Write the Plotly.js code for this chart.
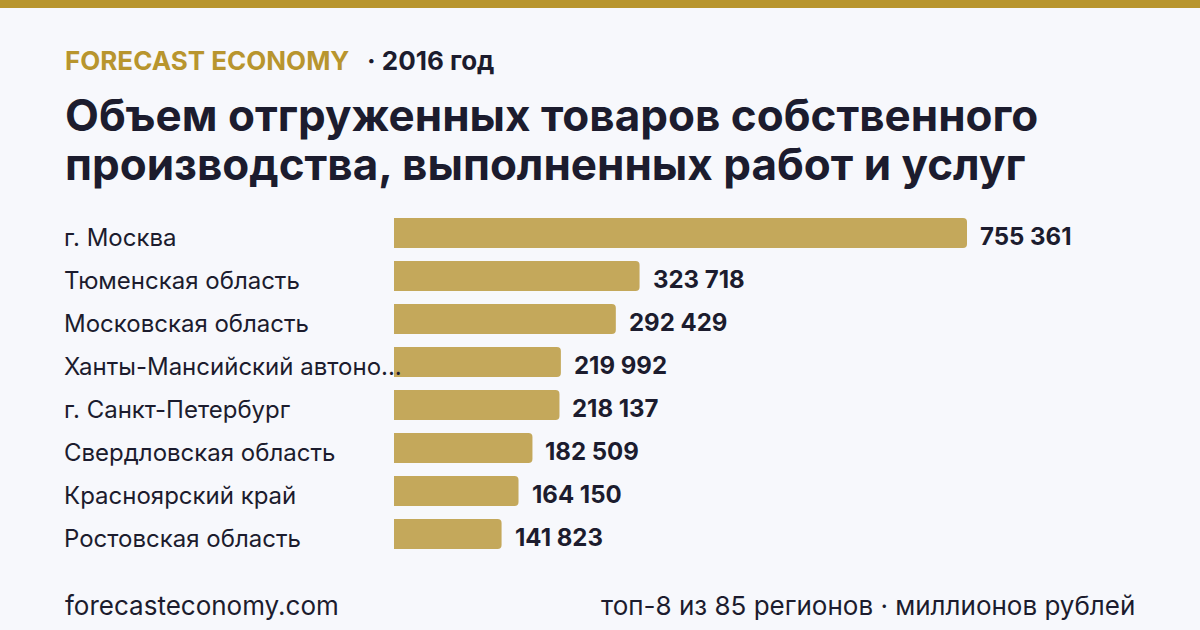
<!DOCTYPE html>
<html>
<head>
<meta charset="utf-8">
<script src="https://cdn.plot.ly/plotly-3.0.1.min.js"></script>
<style>
html,body{margin:0;padding:0;background:#f7f8fc;}
#chart{width:1200px;height:630px;}
</style>
</head>
<body>
<div id="chart"></div>
<script>
const regions = [
  "г. Москва",
  "Тюменская область",
  "Московская область",
  "Ханты-Мансийский автоно...",
  "г. Санкт-Петербург",
  "Свердловская область",
  "Красноярский край",
  "Ростовская область"
];
const values = [755361, 323718, 292429, 219992, 218137, 182509, 164150, 141823];
const brand = "FORECAST ECONOMY";
const period = "· 2016 год";
const titleLine1 = "Объем отгруженных товаров собственного";
const titleLine2 = "производства, выполненных работ и услуг";
const footerLeft = "forecasteconomy.com";
const footerRight = "топ-8 из 85 регионов · миллионов рублей";

const W = 1200, H = 630;
const GOLD = "#b8952e", BAR = "#c4a85b", DARK = "#1c1c2e", BG = "#f7f8fc";
const FONT = "Inter, 'Noto Sans', sans-serif";

function fmt(v){ return String(v).replace(/\B(?=(\d{3})+(?!\d))/g, " "); }

const maxV = Math.max(...values);
const x0 = 394, xMaxPx = 967, xEnd = 1140;
const xRange = [0, maxV * (xEnd - x0) / (xMaxPx - x0)];

const trace = {
  type: "bar",
  orientation: "h",
  x: values,
  y: regions,
  marker: {color: BAR, cornerradius: 4},
  hoverinfo: "skip"
};

const annotations = [];
regions.forEach((r, i) => {
  annotations.push({
    xref: "paper", yref: "y", x: 62 / W, y: r, xanchor: "left", yanchor: "middle",
    text: r, showarrow: false, font: {family: FONT, size: 24, color: DARK}, yshift: -4
  });
  annotations.push({
    xref: "x", yref: "y", x: values[i], y: r, xanchor: "left", yanchor: "middle",
    text: fmt(values[i]), showarrow: false, xshift: 11, yshift: -3,
    font: {family: FONT, size: 24, color: DARK, weight: 700}
  });
});
annotations.push({
  xref: "paper", yref: "paper", x: 63 / W, y: 1 - 61 / H, xanchor: "left", yanchor: "middle",
  text: brand, showarrow: false, font: {family: FONT, size: 26, color: GOLD, weight: 700}
});
annotations.push({
  xref: "paper", yref: "paper", x: 365 / W, y: 1 - 61 / H, xanchor: "left", yanchor: "middle",
  text: period, showarrow: false, font: {family: FONT, size: 26, color: DARK, weight: 700}
});
annotations.push({
  xref: "paper", yref: "paper", x: 63 / W, y: 1 - 164 / H, xanchor: "left", yanchor: "middle",
  text: titleLine2, showarrow: false, font: {family: FONT, size: 44, color: DARK, weight: 700}
});
annotations.push({
  xref: "paper", yref: "paper", x: 63 / W, y: 1 - 605 / H, xanchor: "left", yanchor: "middle",
  text: footerLeft, showarrow: false, font: {family: FONT, size: 26, color: DARK}
});
annotations.push({
  xref: "paper", yref: "paper", x: 1137 / W, y: 1 - 605 / H, xanchor: "right", yanchor: "middle",
  text: footerRight, showarrow: false, font: {family: FONT, size: 26, color: DARK}
});

const layout = {
  width: W, height: H,
  paper_bgcolor: BG, plot_bgcolor: BG,
  margin: {l: 0, r: 0, t: 0, b: 0},
  showlegend: false,
  bargap: 0.3,
  title: {
    text: titleLine1, x: 65 / W, xanchor: "left", xref: "paper",
    y: 1 - 116 / H, yanchor: "middle", yref: "container",
    font: {family: FONT, size: 44, color: DARK, weight: 700}
  },
  xaxis: {
    domain: [x0 / W, xEnd / W], range: xRange,
    visible: false, showgrid: false, zeroline: false, fixedrange: true
  },
  yaxis: {
    domain: [(H - 555.5) / H, (H - 211.5) / H],
    autorange: "reversed", type: "category",
    showticklabels: false, showgrid: false, zeroline: false, ticks: "", fixedrange: true
  },
  shapes: [{
    type: "rect", xref: "paper", yref: "paper", x0: 0, x1: 1, y0: 1 - 8 / H, y1: 1,
    fillcolor: GOLD, line: {width: 0}
  }],
  annotations: annotations
};

Plotly.newPlot("chart", [trace], layout, {displayModeBar: false, staticPlot: true});
</script>
</body>
</html>
